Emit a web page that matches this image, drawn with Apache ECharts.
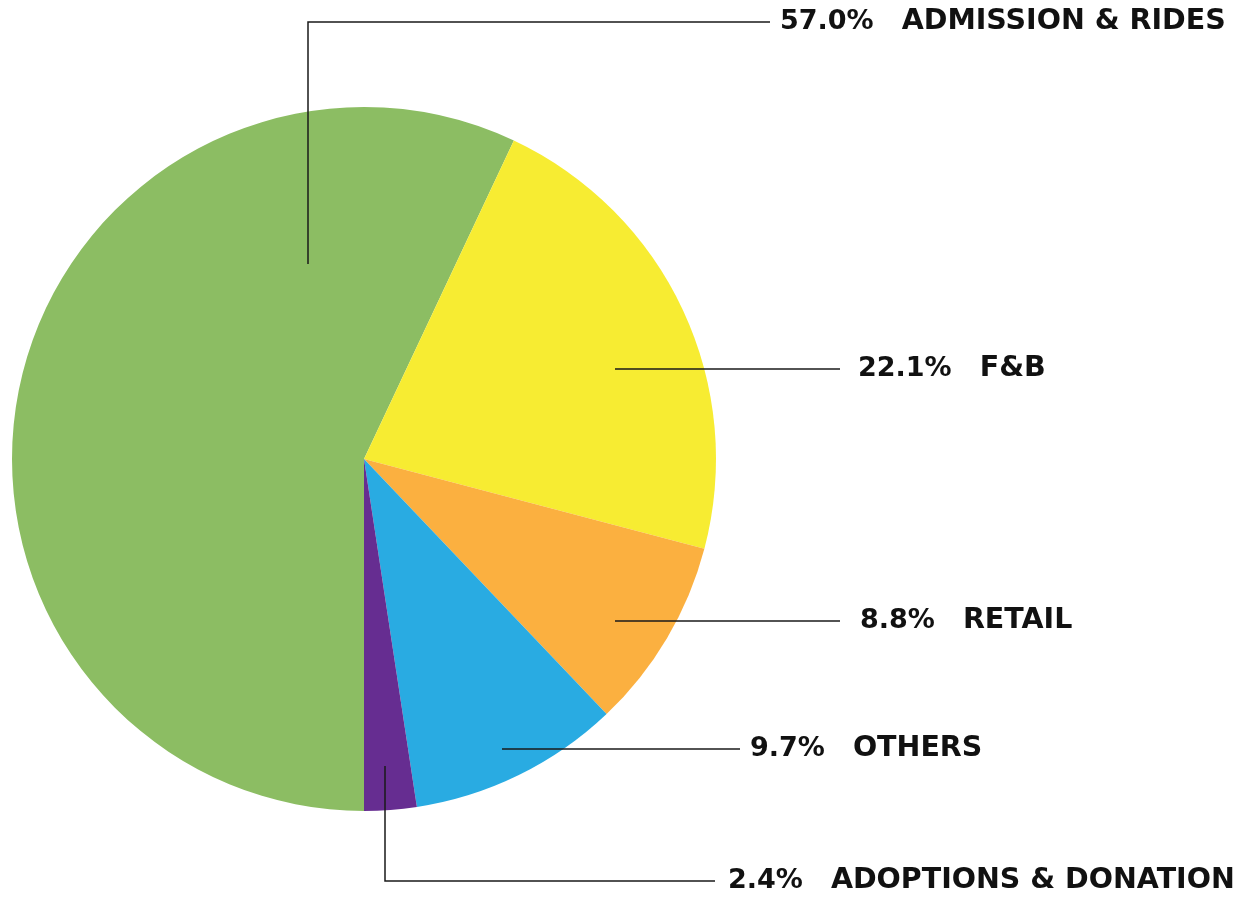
<!DOCTYPE html>
<html>
<head>
<meta charset="utf-8">
<script src="https://cdn.jsdelivr.net/npm/echarts@6/dist/echarts.min.js"></script>
<style>
  html, body { margin: 0; padding: 0; background: #fff; }
  #chart { width: 1252px; height: 901px; }
</style>
</head>
<body>
<div id="chart"></div>
<script>
// data
var categories = ['ADMISSION & RIDES', 'F&B', 'RETAIL', 'OTHERS', 'ADOPTIONS & DONATION'];
var shares = [57.0, 22.1, 8.8, 9.7, 2.4];
var colors = ['#8cbd63', '#f7ec32', '#fbb040', '#29abe2', '#662d91'];

// label placement (start of leader line, bend point, end of line, text x)
var leaders = [
    { from: [308, 264], bend: [308, 22], to: [770, 22], textX: 780 },
    { from: [615, 369], bend: [615, 369], to: [840, 369], textX: 858 },
    { from: [615, 621], bend: [615, 621], to: [840, 621], textX: 860 },
    { from: [502, 749], bend: [502, 749], to: [740, 749], textX: 750 },
    { from: [385, 766], bend: [385, 881], to: [715, 881], textX: 728 }
];

var chart = echarts.init(document.getElementById('chart'));

var pieData = categories.map(function (name, i) {
    return { name: name, value: shares[i], itemStyle: { color: colors[i] } };
});

var base = {
    type: 'pie',
    center: [364, 459],
    radius: 352,
    startAngle: -90,
    clockwise: true,
    avoidLabelOverlap: false,
    silent: true
};

var option = {
    animation: false,
    series: [
        // the coloured slices
        Object.assign({}, base, {
            z: 1,
            data: pieData,
            itemStyle: { borderWidth: 0 },
            label: { show: false },
            labelLine: { show: false }
        }),
        // same pie, transparent, only to draw labels + leader lines on top
        Object.assign({}, base, {
            z: 5,
            data: categories.map(function (name, i) {
                return { name: name, value: shares[i] };
            }),
            itemStyle: { color: 'rgba(0,0,0,0)', borderWidth: 0 },
            label: {
                show: true,
                position: 'outside',
                formatter: function (p) {
                    return '{p|' + p.value.toFixed(1) + '%}{n|' + p.name + '}';
                },
                rich: {
                    p: {
                        fontFamily: 'DejaVu Sans',
                        fontWeight: 'bold',
                        fontSize: 27,
                        color: '#111',
                        padding: [0, 28, 0, 0]
                    },
                    n: {
                        fontFamily: 'DejaVu Sans',
                        fontWeight: 'bold',
                        fontSize: 28.5,
                        color: '#111'
                    }
                }
            },
            labelLine: {
                show: true,
                lineStyle: { color: '#1a1a1a', width: 1.5 }
            },
            labelLayout: function (params) {
                var l = leaders[params.dataIndex];
                return {
                    x: l.textX,
                    y: l.to[1],
                    align: 'left',
                    verticalAlign: 'middle',
                    labelLinePoints: [l.from, l.bend, l.to]
                };
            }
        })
    ]
};

chart.setOption(option);
</script>
</body>
</html>
